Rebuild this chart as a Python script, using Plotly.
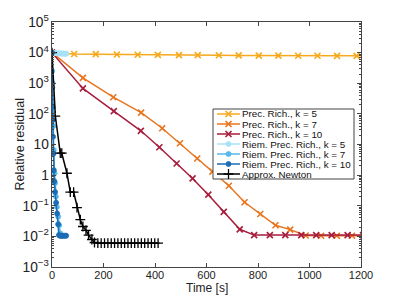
import plotly.graph_objects as go

# ---------------- data ----------------
t_pr5 = [0, 86, 170, 252, 333, 411, 493, 566, 648, 725, 803, 879, 956, 1031, 1107, 1183, 1260]
r_pr5 = [10000, 9000, 8900, 8700, 8500, 8400, 8300, 8300, 8200, 8100, 8000, 8000, 7900, 7900, 7800, 7800, 7800]

t_pr7 = [0, 120, 238, 346, 428, 497, 564, 623, 687, 748, 809, 868, 925, 985, 1045, 1106, 1165, 1225]
r_pr7 = [10000, 1500, 350, 110, 34, 11, 3.5, 1.3, 0.45, 0.13, 0.054, 0.023, 0.0166, 0.0107,
         0.0105, 0.0105, 0.0105, 0.0105]

t_pr10 = [0, 120, 240, 345, 417, 484, 546, 607, 667, 729, 785, 846, 906, 968, 1026, 1086, 1148, 1208]
r_pr10 = [10000, 680, 123, 28, 8.1, 2.4, 0.78, 0.23, 0.063, 0.017, 0.011, 0.011, 0.011, 0.011,
          0.011, 0.011, 0.011, 0.011]

t_rp5 = [0, 4, 8, 12, 16, 20, 24, 28, 32, 36, 40, 44, 48, 52, 56]
r_rp5 = [10000, 9800, 9700, 9600, 9600, 9500, 9500, 9400, 9400, 9300, 9300, 9300, 9200, 9200, 9200]

t_rp7 = [0, 1, 2, 3, 5, 7, 10, 12, 15, 19, 24, 28, 32, 36]
r_rp7 = [10000, 2500, 1000, 160, 40, 6.6, 1.15, 0.55, 0.2, 0.091, 0.044, 0.023, 0.0126, 0.0105]

t_rp10 = [0, 1, 2, 3, 4, 6, 7, 9, 12, 16, 20, 24, 27, 31, 35, 39, 43, 47, 51, 55]
r_rp10 = [10000, 740, 170, 63, 18, 5.1, 1.45, 0.63, 0.28, 0.126, 0.056, 0.025, 0.011, 0.0105,
          0.0105, 0.0105, 0.0105, 0.0105, 0.0105, 0.0105]

t_nt = [0, 13, 32, 38, 58, 71, 84, 97, 110, 120, 132, 142, 155, 165,
        178, 191, 204, 217, 230, 243, 256, 269, 282, 295, 308, 321, 334, 347, 360, 373, 386, 399, 412]
r_nt = [10000, 85, 5.2, 5.2, 1.15, 0.28, 0.28, 0.087, 0.035, 0.021, 0.0158, 0.011, 0.0079, 0.0063,
        0.006, 0.006, 0.006, 0.006, 0.006, 0.006, 0.006, 0.006, 0.006, 0.006, 0.006, 0.006,
        0.006, 0.006, 0.006, 0.006, 0.006, 0.006, 0.006]

x_ticks = [0, 200, 400, 600, 800, 1000, 1200]

names = ["Prec. Rich., k = 5", "Prec. Rich., k = 7", "Prec. Rich., k = 10",
         "Riem. Prec. Rich., k = 5", "Riem. Prec. Rich., k = 7", "Riem. Prec. Rich., k = 10",
         "Approx. Newton"]
colors = ["#F7A81B", "#E8741E", "#A81C3C", "#A8E2F8", "#55B9EA", "#1B6DB5", "#000000"]
symbols = ["x-thin", "x-thin", "x-thin", "circle", "circle", "circle", "cross-thin"]
series = [(t_pr5, r_pr5), (t_pr7, r_pr7), (t_pr10, r_pr10),
          (t_rp5, r_rp5), (t_rp7, r_rp7), (t_rp10, r_rp10), (t_nt, r_nt)]

FONT = "Liberation Sans, Arial, sans-serif"
fig = go.Figure()

def marker_for(sym, col):
    if sym == "circle":
        return dict(symbol="circle", size=5, color=col, line=dict(width=0.8, color=col))
    if sym == "cross-thin":
        return dict(symbol="cross-thin", size=7, color=col, line=dict(width=1.3, color=col))
    return dict(symbol="x-thin", size=6, color=col, line=dict(width=1.6, color=col))

for (t, r), nm, col, sym in zip(series, names, colors, symbols):
    fig.add_trace(go.Scatter(x=t, y=r, mode="lines+markers", name=nm,
                             line=dict(color=col, width=1.5),
                             marker=marker_for(sym, col), showlegend=False))

# The page body has an 8px margin; work in screen pixels and convert.
OFF = 8
px_l, px_r, px_t, px_b = 52, 361, 22, 267          # screen pixels of plot area
FW, FH = 399 - OFF, 299 - OFF
W, H = px_r - px_l, px_b - px_t
def pxX(p):
    return (p - px_l) / W
def pxY(p):
    return (px_b - p) / H

# ---------------- manual legend on an overlay subplot (0..1 units) ----------------
bx0, bx1, by0, by1 = pxX(213), pxX(354), pxY(179), pxY(109)
fig.add_trace(go.Scatter(x=[bx0, bx1, bx1, bx0, bx0], y=[by0, by0, by1, by1, by0],
                         xaxis="x2", yaxis="y2", mode="lines", fill="toself",
                         fillcolor="white", line=dict(color="#444444", width=1),
                         showlegend=False, hoverinfo="skip"))

for i, (nm, col, sym) in enumerate(zip(names, colors, symbols)):
    yy = pxY(114 + 10 * i)
    fig.add_trace(go.Scatter(x=[pxX(217), pxX(240)], y=[yy, yy], xaxis="x2", yaxis="y2",
                             mode="lines", line=dict(color=col, width=1.5),
                             showlegend=False, hoverinfo="skip"))
    fig.add_trace(go.Scatter(x=[pxX(228.5)], y=[yy], xaxis="x2", yaxis="y2",
                             mode="markers", marker=marker_for(sym, col),
                             showlegend=False, hoverinfo="skip"))
    fig.add_annotation(xref="paper", yref="paper", x=pxX(241), y=yy,
                       text=nm, showarrow=False, xanchor="left", yanchor="middle",
                       xshift=-1, font=dict(size=9.8, color="#111111", family=FONT))

# axis titles as annotations for precise placement
fig.add_annotation(xref="paper", yref="paper", x=0.5, y=pxY(288), text="Time [s]",
                   showarrow=False, xanchor="center", yanchor="middle",
                   font=dict(size=12, color="#222222", family=FONT))
fig.add_annotation(xref="paper", yref="paper", x=pxX(19), y=0.5, text="Relative residual",
                   showarrow=False, xanchor="center", yanchor="middle", textangle=-90,
                   font=dict(size=12.5, color="#222222", family=FONT))

axis_col = "#444444"
fig.update_layout(
    width=FW, height=FH,
    margin=dict(l=px_l - OFF, r=FW - (px_r - OFF), t=px_t - OFF, b=FH - (px_b - OFF),
                autoexpand=False),
    paper_bgcolor="white", plot_bgcolor="white",
    font=dict(family=FONT, size=11, color="#222222"),
    showlegend=False,
    xaxis=dict(range=[0, 1200], tickmode="array", tickvals=x_ticks,
               ticks="inside", ticklen=4, tickcolor=axis_col, mirror="allticks",
               showline=True, linecolor=axis_col, linewidth=1, showgrid=False, zeroline=False,
               automargin=False, tickfont=dict(size=11), ticklabelstandoff=-2),
    yaxis=dict(type="log", range=[-3, 5], dtick=1, exponentformat="power",
               ticks="inside", ticklen=4, tickcolor=axis_col, mirror="allticks",
               showline=True, linecolor=axis_col, linewidth=1, showgrid=False, zeroline=False,
               automargin=False,
               minor=dict(ticks="inside", ticklen=2, dtick="D1", tickcolor=axis_col, showgrid=False),
               tickfont=dict(size=11)),
    xaxis2=dict(overlaying="x", range=[0, 1], visible=False, fixedrange=True),
    yaxis2=dict(overlaying="y", range=[0, 1], visible=False, fixedrange=True),
)

fig.write_html("out.html")
